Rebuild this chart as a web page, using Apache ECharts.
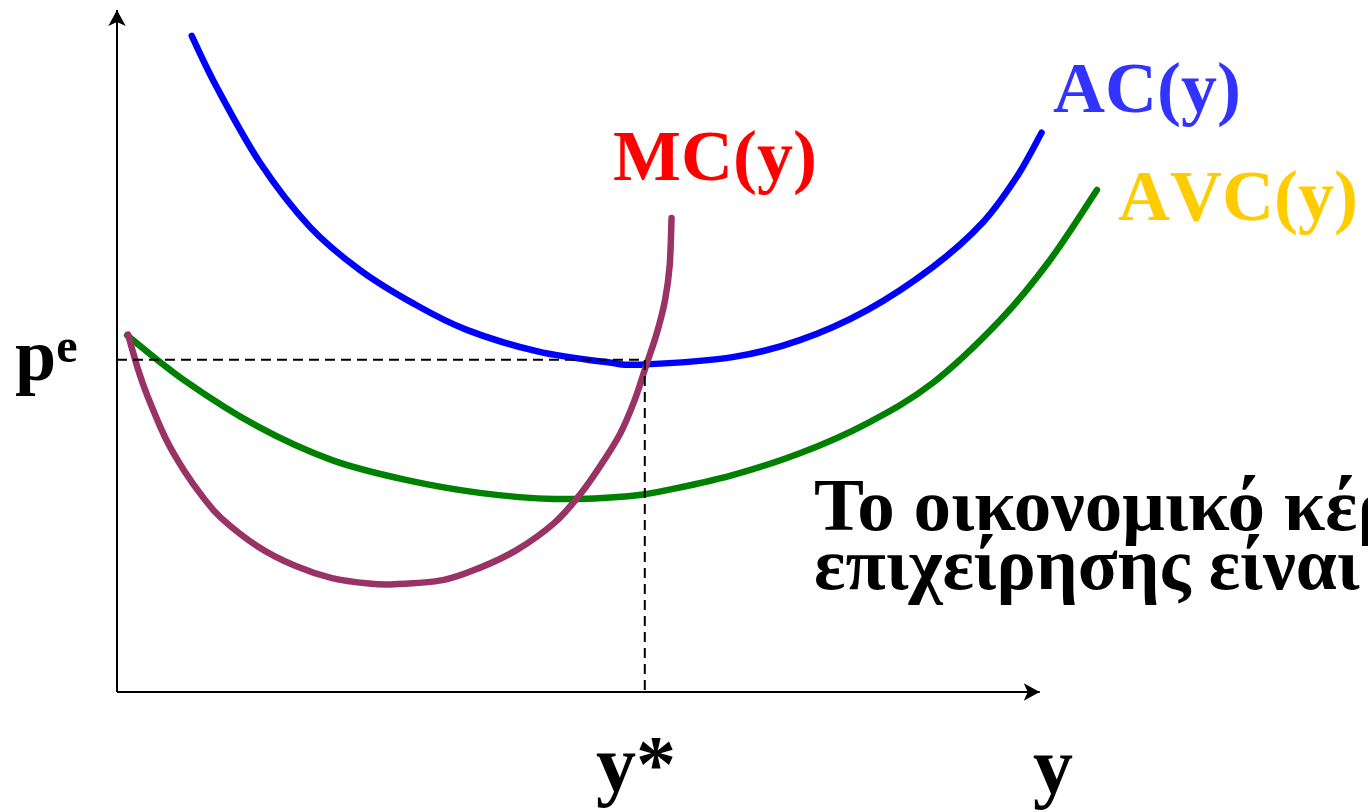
<!DOCTYPE html>
<html>
<head>
<meta charset="utf-8">
<title>Κόστη επιχείρησης</title>
<script src="https://cdn.jsdelivr.net/npm/echarts@6/dist/echarts.min.js"></script>
<style>
  html, body { margin: 0; padding: 0; background: #ffffff; }
  #chart { width: 1368px; height: 812px; }
</style>
</head>
<body>
<div id="chart"></div>
<script>
// Average cost AC(y)
const acX = [0.81, 1.08, 1.55, 2.09, 2.63, 3.22, 3.79, 4.57, 5.34, 5.67, 6.67, 7.40, 8.13, 8.84, 9.38, 9.75, 10.02];
const acY = [9.62, 8.87, 7.76, 6.82, 6.19, 5.69, 5.31, 4.99, 4.83, 4.80, 4.91, 5.16, 5.60, 6.23, 6.88, 7.55, 8.20];

// Average variable cost AVC(y)
const avcX = [0.11, 0.73, 1.53, 2.33, 3.13, 3.93, 4.74, 5.54, 5.96, 6.67, 7.40, 8.13, 8.84, 9.57, 10.11, 10.62];
const avcY = [5.23, 4.57, 3.89, 3.40, 3.11, 2.92, 2.83, 2.87, 2.96, 3.18, 3.50, 3.94, 4.53, 5.45, 6.33, 7.36];

// Marginal cost MC(y)
const mcX = [0.12, 0.23, 0.33, 0.53, 0.73, 0.93, 1.13, 1.53, 1.93, 2.33, 2.73, 3.01, 3.53, 3.93, 4.33, 4.74,
             5.02, 5.23, 5.45, 5.61, 5.74, 5.85, 5.94, 5.99, 6.01];
const mcY = [5.24, 4.72, 4.34, 3.71, 3.24, 2.86, 2.55, 2.13, 1.85, 1.67, 1.59, 1.58, 1.64, 1.82, 2.08, 2.48,
             2.90, 3.30, 3.78, 4.28, 4.81, 5.26, 5.75, 6.26, 6.95];

// Equilibrium price and output
const pE = 4.87;
const yStar = 5.72;

// Axis extents (arrow ends)
const xAxisEnd = 10;
const yAxisEnd = 10;

const zip = (xs, ys) => xs.map((x, i) => [x, ys[i]]);

const serif = '"Liberation Serif", "Times New Roman", serif';
const chart = echarts.init(document.getElementById('chart'), null, { renderer: 'canvas' });

// place text by its baseline (canvas 'middle' sits ~0.305em above the baseline)
function label(text, left, baseline, size, color, rich) {
  return {
    type: 'text',
    x: left,
    y: baseline - 0.305 * size,
    style: {
      text: text,
      fill: color,
      font: 'bold ' + size + 'px ' + serif,
      verticalAlign: 'middle',
      align: 'left',
      rich: rich
    },
    z: 10
  };
}

// Catmull-Rom spline through the projected points, written as cubic Bezier segments
function splinePath(pts) {
  let d = 'M' + pts[0][0] + ' ' + pts[0][1];
  for (let i = 0; i < pts.length - 1; i++) {
    const p0 = pts[Math.max(i - 1, 0)];
    const p1 = pts[i];
    const p2 = pts[i + 1];
    const p3 = pts[Math.min(i + 2, pts.length - 1)];
    const c1x = p1[0] + (p2[0] - p0[0]) / 6, c1y = p1[1] + (p2[1] - p0[1]) / 6;
    const c2x = p2[0] - (p3[0] - p1[0]) / 6, c2y = p2[1] - (p3[1] - p1[1]) / 6;
    d += ' C' + c1x + ' ' + c1y + ' ' + c2x + ' ' + c2y + ' ' + p2[0] + ' ' + p2[1];
  }
  return d;
}

const curve = (name, xs, ys, color) => ({
  name: name,
  type: 'custom',
  coordinateSystem: 'cartesian2d',
  data: zip(xs, ys),
  encode: { x: 0, y: 1 },
  silent: true,
  clip: false,
  renderItem: function (params, api) {
    if (params.dataIndex !== 0) return null;
    const pts = xs.map((x, i) => api.coord([x, ys[i]]));
    return {
      type: 'path',
      shape: { pathData: splinePath(pts) },
      style: { stroke: color, lineWidth: 6.5, fill: 'none', lineCap: 'round', lineJoin: 'round' }
    };
  }
});

const hiddenAxis = {
  type: 'value', min: 0,
  axisLine: { show: false }, axisTick: { show: false },
  axisLabel: { show: false }, splitLine: { show: false }
};

const avcFont = 'bold 72px ' + serif;

chart.setOption({
  animation: false,
  backgroundColor: '#ffffff',
  grid: { left: 117, top: 10, right: 236, bottom: 120, containLabel: false },
  xAxis: Object.assign({}, hiddenAxis, { max: 11 }),
  yAxis: Object.assign({}, hiddenAxis, { max: 10 }),
  series: [
    {
      name: 'axes',
      type: 'line',
      data: [],
      silent: true,
      markLine: {
        silent: true,
        symbol: ['none', 'arrow'],
        symbolSize: [13, 16],
        label: { show: false },
        lineStyle: { color: '#000', width: 2, type: 'solid' },
        data: [
          [{ coord: [0, 0] }, { coord: [xAxisEnd, 0] }],
          [{ coord: [0, 0] }, { coord: [0, yAxisEnd] }]
        ]
      }
    },
    curve('AC(y)', acX, acY, '#0000ff'),
    curve('AVC(y)', avcX, avcY, '#008000'),
    {
      name: 'pe-y*',
      type: 'line',
      data: [[0, pE], [yStar, pE], [yStar, 0]],
      showSymbol: false,
      silent: true,
      lineStyle: { color: '#000', width: 2, type: [10, 6] }
    },
    curve('MC(y)', mcX, mcY, '#993366')
  ],
  graphic: [
    label('MC(y)', 613, 183, 72, '#ff0000'),
    label('AC(y)', 1053, 115, 72, '#3333ff'),
    // "A" set apart so the A–V pair keeps its natural width
    label('{a|A}{b|VC(y)}', 1118, 223, 72, '#ffcc00', {
      a: { font: avcFont, fill: '#ffcc00' },
      b: { font: avcFont, fill: '#ffcc00' }
    }),
    label('{p|p}{e|e}', 15, 383, 74, '#000', {
      p: { font: 'bold 74px ' + serif, fill: '#000' },
      e: { font: 'bold 48px ' + serif, fill: '#000', verticalAlign: 'bottom', padding: [0, 0, 24, 0] }
    }),
    label('y*', 596, 795, 80, '#000'),
    label('y', 1033, 797, 80, '#000'),
    label('Το οικονομικό κέρδος της', 814, 533, 75, '#000'),
    label('επιχείρησης είναι μηδέν', 814, 592, 73.5, '#000')
  ]
});
</script>
</body>
</html>
